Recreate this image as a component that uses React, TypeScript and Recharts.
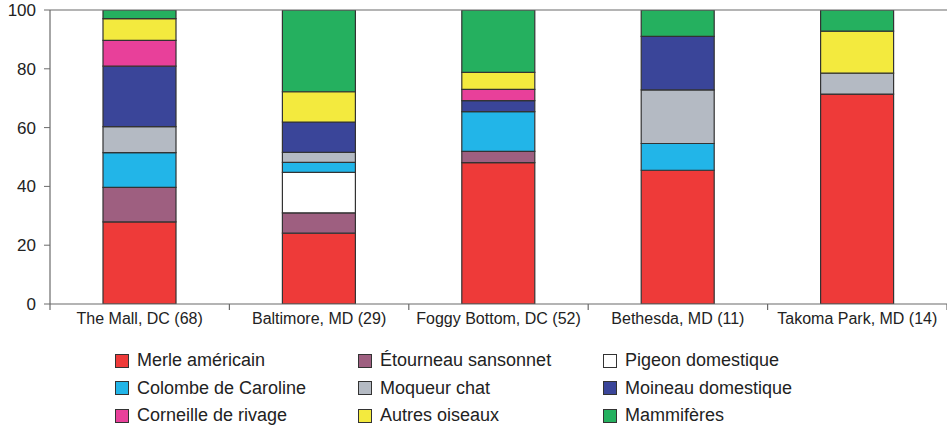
import React from "react";
import { BarChart, Bar, XAxis, YAxis, ReferenceLine } from "recharts";

const categories = [
  "The Mall, DC (68)",
  "Baltimore, MD (29)",
  "Foggy Bottom, DC (52)",
  "Bethesda, MD (11)",
  "Takoma Park, MD (14)",
];

const merle = [27.9, 24.1, 48.1, 45.5, 71.4];
const etourneau = [11.8, 6.9, 3.8, 0, 0];
const pigeon = [0, 13.8, 0, 0, 0];
const colombe = [11.8, 3.4, 13.5, 9.1, 0];
const moqueur = [8.8, 3.4, 0, 18.2, 7.1];
const moineau = [20.6, 10.3, 3.8, 18.2, 0];
const corneille = [8.8, 0, 3.8, 0, 0];
const autres = [7.4, 10.3, 5.8, 0, 14.3];
const mammiferes = [2.9, 27.8, 21.2, 9.0, 7.2];

const yTicks = [0, 20, 40, 60, 80, 100];

const series = [
  { key: "merle", label: "Merle américain", color: "#EE3A39", values: merle },
  { key: "etourneau", label: "Étourneau sansonnet", color: "#9E5F80", values: etourneau },
  { key: "pigeon", label: "Pigeon domestique", color: "#FFFFFF", values: pigeon },
  { key: "colombe", label: "Colombe de Caroline", color: "#22B5E8", values: colombe },
  { key: "moqueur", label: "Moqueur chat", color: "#B4BAC3", values: moqueur },
  { key: "moineau", label: "Moineau domestique", color: "#3A4599", values: moineau },
  { key: "corneille", label: "Corneille de rivage", color: "#E8409A", values: corneille },
  { key: "autres", label: "Autres oiseaux", color: "#F3EA3E", values: autres },
  { key: "mammiferes", label: "Mammifères", color: "#25B05F", values: mammiferes },
];

const data = categories.map((name, i) => {
  const row: Record<string, string | number> = { name };
  series.forEach((s) => {
    row[s.key] = s.values[i];
  });
  return row;
});

const FONT = "'Liberation Sans', Arial, Helvetica, sans-serif";
const AXIS = "#6b6b6b";
const TEXT = "#222";
const TICK_SIZE = 6;
const TICK_MARGIN = 3;

const CategoryTick = (props: any) => {
  const { x, y, payload, index, visibleTicksCount } = props;
  const half = payload && typeof payload.offset === "number" ? payload.offset : 0;
  const axisY = y - TICK_SIZE - TICK_MARGIN;
  const left = x - half;
  const right = x + half;
  return (
    <g>
      {half > 0 && (
        <line x1={left} x2={left} y1={axisY} y2={axisY + TICK_SIZE} stroke={AXIS} strokeWidth={1.2} />
      )}
      {half > 0 && index === visibleTicksCount - 1 && (
        <line x1={right} x2={right} y1={axisY} y2={axisY + TICK_SIZE} stroke={AXIS} strokeWidth={1.2} />
      )}
      <text x={x} y={y} dy="0.71em" textAnchor="middle" fill={TEXT} fontSize={16} fontFamily={FONT}>
        {payload.value}
      </text>
    </g>
  );
};

export default function App() {
  return (
    <div style={{ position: "absolute", left: 0, top: 0, width: 947, height: 425, background: "#fff", fontFamily: FONT }}>
      <BarChart
        width={947}
        height={425}
        data={data}
        margin={{ top: 10, right: 0, left: 0, bottom: 91 }}
      >
        <XAxis
          dataKey="name"
          tickLine={false}
          tickSize={TICK_SIZE}
          tickMargin={TICK_MARGIN}
          height={30}
          axisLine={{ stroke: AXIS, strokeWidth: 1.2 }}
          tick={CategoryTick}
          interval={0}
        />
        <YAxis
          domain={[0, 100]}
          ticks={yTicks}
          allowDataOverflow
          width={50}
          tickSize={6}
          tickMargin={8}
          axisLine={{ stroke: AXIS, strokeWidth: 1.2 }}
          tickLine={{ stroke: AXIS }}
          tick={{ fill: TEXT, fontSize: 17, fontFamily: FONT }}
        />
        <ReferenceLine y={100} stroke={AXIS} strokeWidth={1.2} ifOverflow="extendDomain" />
        {series.map((s) => (
          <Bar
            key={s.key}
            dataKey={s.key}
            name={s.label}
            stackId="a"
            fill={s.color}
            stroke="#333"
            strokeWidth={1.2}
            barSize={73}
            isAnimationActive={false}
          />
        ))}
      </BarChart>
      <div
        style={{
          position: "absolute",
          left: 115,
          top: 347,
          display: "grid",
          gridTemplateColumns: "243px 245px 240px",
          gridAutoRows: "27.5px",
          fontSize: 18,
          color: TEXT,
        }}
      >
        {series.map((s) => (
          <div key={s.key} style={{ display: "flex", alignItems: "center", whiteSpace: "nowrap" }}>
            <span
              style={{
                display: "inline-block",
                width: 12,
                height: 12,
                background: s.color,
                border: "1.2px solid #333",
                marginRight: 8,
              }}
            />
            <span>{s.label}</span>
          </div>
        ))}
      </div>
    </div>
  );
}
